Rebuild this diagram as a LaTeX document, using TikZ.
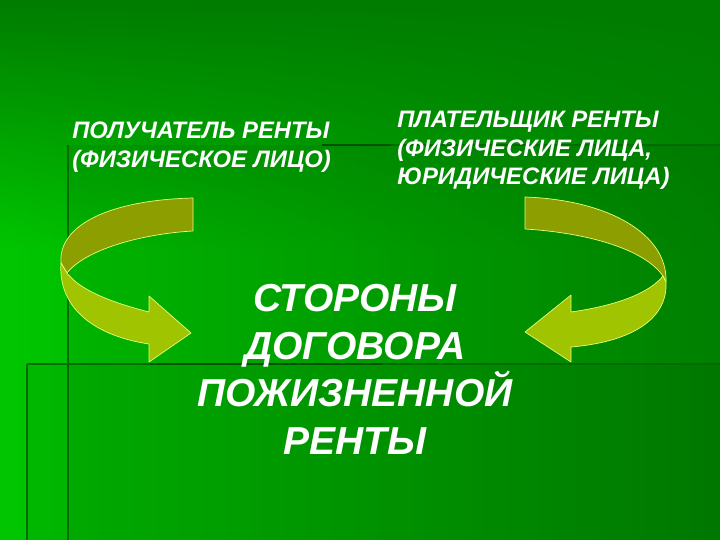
\documentclass[tikz,border=0pt]{standalone}
\usepackage{fontspec}
\setmainfont{Liberation Sans}
\usepackage{tikz}
\usetikzlibrary{positioning}
\usetikzlibrary{fadings}

\definecolor{bgdark}{RGB}{0,124,0}
\definecolor{bgmid}{RGB}{0,136,0}
\definecolor{bgbright}{RGB}{0,198,0}
\definecolor{rulegreen}{RGB}{0,108,0}
\definecolor{ruledark}{RGB}{0,82,0}
\definecolor{ribbonback}{RGB}{140,158,0}
\definecolor{ribbonfront}{RGB}{160,196,0}
\definecolor{ribbonedge}{RGB}{228,255,120}

\begin{document}
\begin{tikzpicture}[
            x = 1pt, y = -1pt, % pixel grid, y down
            semithick
        ]

        \tikzstyle{side}=[
            text = white,
            align = left,
            inner sep = 0pt,
            anchor = north west,
            font = \fontsize{23.8}{28.5}\selectfont\bfseries\itshape
        ]
        \tikzstyle{title}=[
            text = white,
            align = center,
            inner sep = 0pt,
            anchor = north,
            font = \fontsize{39}{47.5}\selectfont\bfseries\itshape
        ]
        \tikzstyle{ribbon}=[
            draw = ribbonedge,
            line width = 0.7pt,
            line join = round
        ]
        \tikzstyle{rule}=[
            draw = rulegreen,
            line width = 2pt
        ]

        \useasboundingbox (0,0) rectangle (720,540);

	% background
        \shade[left color=bgbright, right color=bgmid] (0,0) rectangle (720,540);
        \fill[bgdark, path fading=south] (0,0) rectangle (720,250);
        \fill[black, opacity=0.06] (68,145) rectangle (720,540);
        \fill[black, opacity=0.06] (27,364) rectangle (720,540);

        % template rules
        \draw[rule] (68,145) -- (68,540);
        \draw[rule] (322,145) -- (720,145);
        \draw[rule] (27,364) -- (720,364);
        \draw[rule] (27,364) -- (27,540);
        \draw[rule, draw=ruledark] (322,145) -- (390,145);
        \draw[rule, draw=ruledark] (150,364) -- (383,364);

	% parties
        \node[side] (R) at (72,122) {ПОЛУЧАТЕЛЬ РЕНТЫ\\(ФИЗИЧЕСКОЕ ЛИЦО)};
        \node[side] (P) at (397,111) {ПЛАТЕЛЬЩИК РЕНТЫ\\(ФИЗИЧЕСКИЕ ЛИЦА,\\ЮРИДИЧЕСКИЕ ЛИЦА)};

        % contract
        \node[title] (C) at (355,284) {СТОРОНЫ\\ДОГОВОРА\\ПОЖИЗНЕННОЙ\\РЕНТЫ};

        % left ribbon arrow
        \draw[ribbon, fill=ribbonback] (193,198) -- (193,231)
            .. controls (140,234) and (85,250) .. (67,273) -- (61,263)
            .. controls (58,225) and (110,200) .. (193,198) -- cycle;
        \draw[ribbon, fill=ribbonfront] (61,263)
            .. controls (58,305) and (90,335) .. (149,344)
            -- (149,362) -- (191,333) -- (149,296) -- (149,312)
            .. controls (110,302) and (80,290) .. (67,273) -- cycle;

        % right ribbon arrow
        \draw[ribbon, fill=ribbonback] (525,197) -- (525,229)
            .. controls (590,233) and (645,250) .. (663,276) -- (666,282)
            .. controls (668,235) and (610,200) .. (525,197) -- cycle;
        \draw[ribbon, fill=ribbonfront] (666,282)
            .. controls (668,320) and (630,342) .. (571,347)
            -- (571,362) -- (525,332) -- (571,295) -- (571,312)
            .. controls (620,305) and (650,292) .. (663,276) -- cycle;

\end{tikzpicture}
\end{document}
